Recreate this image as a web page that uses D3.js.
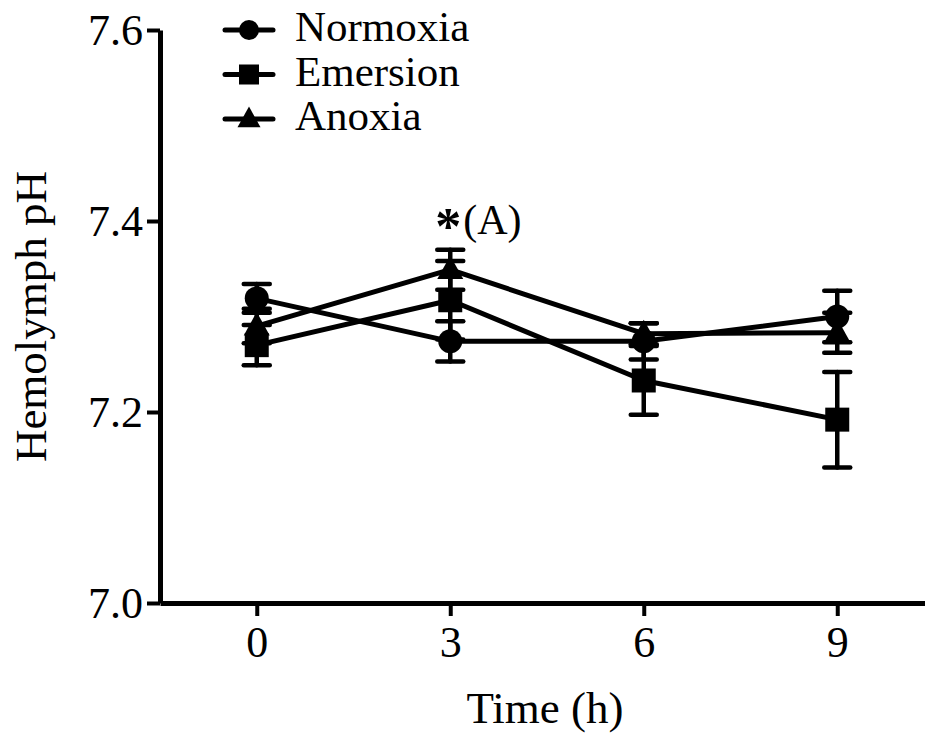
<!DOCTYPE html>
<html>
<head>
<meta charset="utf-8">
<script src="https://cdn.jsdelivr.net/npm/d3@7"></script>
<style>
  html, body { margin: 0; padding: 0; background: #fff; }
  svg { display: block; }
  text { font-family: "Liberation Serif", "Times New Roman", serif; fill: #000; }
</style>
</head>
<body>
<svg id="chart" width="925" height="736"></svg>
<script>
// data
const times = [0, 3, 6, 9];
const yTicks = [7.0, 7.2, 7.4, 7.6];

const normoxia = [7.319, 7.274, 7.274, 7.300];
const normoxiaSE = [0.015, 0.021, 0.019, 0.027];
const emersion = [7.270, 7.317, 7.233, 7.192];
const emersionSE = [0.021, 0.041, 0.036, 0.050];
const anoxia = [7.290, 7.349, 7.282, 7.283];
const anoxiaSE = [0.018, 0.021, 0.011, 0.021];

const seriesNames = ['Normoxia', 'Emersion', 'Anoxia'];
const seriesMarks = ['circle', 'square', 'triangle'];

const series = [
  { name: seriesNames[0], mark: seriesMarks[0], values: normoxia, se: normoxiaSE },
  { name: seriesNames[1], mark: seriesMarks[1], values: emersion, se: emersionSE },
  { name: seriesNames[2], mark: seriesMarks[2], values: anoxia, se: anoxiaSE }
];

const svg = d3.select('#chart');

const x = d3.scaleLinear().domain([-1.5, 10.5]).range([160, 934]);
const y = d3.scaleLinear().domain([7.0, 7.6]).range([603, 30]);

// axes
const yAxis = svg.append('g')
  .attr('transform', `translate(${x(-1.5)},0)`)
  .call(d3.axisLeft(y).tickValues(yTicks).tickFormat(d3.format('.1f'))
    .tickSize(13).tickSizeOuter(0).tickPadding(4));

const xAxis = svg.append('g')
  .attr('transform', `translate(0,${y(7.0)})`)
  .call(d3.axisBottom(x).tickValues(times).tickFormat(d3.format('d'))
    .tickSize(13).tickSizeOuter(0).tickPadding(10));

[yAxis, xAxis].forEach(ax => {
  ax.select('.domain').attr('stroke', '#000').attr('stroke-width', 5);
  ax.selectAll('.tick line').attr('stroke', '#000').attr('stroke-width', 4);
  ax.selectAll('.tick text')
    .attr('font-family', '"Liberation Serif", "Times New Roman", serif')
    .attr('font-size', 44)
    .attr('fill', '#000');
});

// axis titles
svg.append('text')
  .attr('x', 545)
  .attr('y', 723)
  .attr('text-anchor', 'middle')
  .attr('font-size', 45)
  .text('Time (h)');

svg.append('text')
  .attr('transform', `translate(46,${(y(7.0) + y(7.6)) / 2}) rotate(-90)`)
  .attr('text-anchor', 'middle')
  .attr('font-size', 45)
  .text('Hemolymph pH');

// marker shapes
const drawMark = (g, type, cx, cy, s) => {
  if (type === 'circle') {
    g.append('circle').attr('cx', cx).attr('cy', cy).attr('r', s / 2).attr('fill', '#000');
  } else if (type === 'square') {
    g.append('rect').attr('x', cx - s / 2).attr('y', cy - s / 2)
      .attr('width', s).attr('height', s).attr('fill', '#000');
  } else {
    const h = s * 0.9;
    g.append('path')
      .attr('d', `M${cx},${cy - h * 0.6}L${cx + s / 2},${cy + h * 0.4}L${cx - s / 2},${cy + h * 0.4}Z`)
      .attr('fill', '#000');
  }
};

const line = d3.line()
  .x((d, i) => x(times[i]))
  .y(d => y(d));

const plot = svg.append('g');

// lines
series.forEach(s => {
  plot.append('path')
    .datum(s.values)
    .attr('fill', 'none')
    .attr('stroke', '#000')
    .attr('stroke-width', 5)
    .attr('stroke-linejoin', 'round')
    .attr('d', line);
});

// error bars
const capHalf = 13;
series.forEach(s => {
  const eb = plot.append('g')
    .attr('stroke', '#000')
    .attr('stroke-width', 4.5)
    .attr('stroke-linecap', 'round');
  s.values.forEach((v, i) => {
    const cx = x(times[i]);
    const top = y(v + s.se[i]);
    const bot = y(v - s.se[i]);
    eb.append('line').attr('x1', cx).attr('x2', cx).attr('y1', top).attr('y2', bot);
    eb.append('line').attr('x1', cx - capHalf).attr('x2', cx + capHalf).attr('y1', top).attr('y2', top);
    eb.append('line').attr('x1', cx - capHalf).attr('x2', cx + capHalf).attr('y1', bot).attr('y2', bot);
  });
});

// markers
series.forEach(s => {
  const g = plot.append('g');
  s.values.forEach((v, i) => {
    drawMark(g, s.mark, x(times[i]), y(v), s.mark === 'triangle' ? 26 : 24);
  });
});

// significance note at 3 h
const annX = x(times[1]);
const annY = y(anoxia[1] + anoxiaSE[1]) - 16;
svg.append('text')
  .attr('x', annX - 2)
  .attr('y', annY + 10)
  .attr('text-anchor', 'middle')
  .attr('font-size', 52)
  .attr('font-weight', 'bold')
  .text('*');
svg.append('text')
  .attr('x', annX + 13)
  .attr('y', annY)
  .attr('font-size', 42)
  .text('(A)');

// legend
const legend = svg.append('g');
series.forEach((s, i) => {
  const base = 41 + i * 44.5;
  const cy = base - 11;
  legend.append('line')
    .attr('x1', 225).attr('x2', 273)
    .attr('y1', cy).attr('y2', cy)
    .attr('stroke', '#000')
    .attr('stroke-width', 5)
    .attr('stroke-linecap', 'round');
  drawMark(legend, s.mark, 249, cy, s.mark === 'triangle' ? 23 : 20);
  legend.append('text')
    .attr('x', 295)
    .attr('y', base)
    .attr('font-size', 43)
    .text(s.name);
});
</script>
</body>
</html>
